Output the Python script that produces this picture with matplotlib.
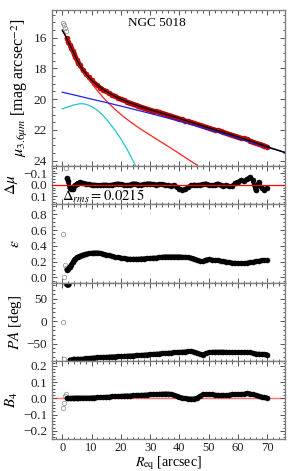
import matplotlib
matplotlib.use("Agg")
import matplotlib.pyplot as plt
from matplotlib.ticker import MultipleLocator

plt.rcParams['font.family'] = ['Liberation Serif', 'DejaVu Serif']
plt.rcParams['mathtext.fontset'] = 'stix'

# ---------------- data ----------------
r_obs = [1.5, 2, 2.5, 3, 3.5, 4, 4.5, 5, 5.5, 6, 7, 8, 9, 10, 11, 12, 13, 14, 15, 16, 17, 18, 19, 20,
         21, 22, 23, 24, 25, 26, 27, 28, 29, 30, 31, 32, 33, 34, 35, 36, 37, 38, 39, 40, 41, 42, 43, 44,
         45, 46, 47, 48, 49, 50, 51, 52, 53, 54, 55, 56, 57, 58, 59, 60, 61, 62, 63, 64, 65, 66, 67, 68, 69, 70]

mu_obs = [16.05, 16.25, 16.45, 16.65, 16.85, 17.05, 17.25, 17.45, 17.62, 17.8, 18.1, 18.35, 18.58, 18.78,
          18.95, 19.1, 19.25, 19.38, 19.5, 19.61, 19.72, 19.82, 19.91, 20.0, 20.08, 20.16, 20.24, 20.31,
          20.38, 20.44, 20.51, 20.57, 20.63, 20.69, 20.75, 20.8, 20.86, 20.92, 20.97, 21.03, 21.08, 21.14,
          21.2, 21.26, 21.32, 21.39, 21.45, 21.51, 21.57, 21.63, 21.69, 21.75, 21.81, 21.87, 21.93, 21.98,
          22.04, 22.1, 22.16, 22.22, 22.28, 22.34, 22.4, 22.46, 22.52, 22.56, 22.62, 22.7, 22.77, 22.85,
          22.9, 22.96, 23.03, 23.1]

d_mu = [-0.055, -0.035, 0.03, 0.04, 0.035, 0.015, 0.0, -0.01, -0.015, -0.02, -0.015, -0.01, -0.005, 0.0,
        0.0, 0.005, 0.005, 0.0, 0.0, 0.005, 0.0, -0.005, -0.01, -0.005, 0.0, 0.005, 0.0, -0.01, -0.01, 0.0,
        0.0, -0.005, -0.01, -0.01, -0.005, 0.0, -0.005, -0.005, 0.0, 0.005, 0.01, 0.005, 0.02, 0.035, 0.045,
        0.04, 0.02, 0.005, 0.0, 0.005, 0.0, -0.005, -0.01, 0.0, 0.005, 0.0, -0.01, 0.0, 0.01, 0.005, 0.015,
        0.01, -0.015, -0.025, -0.04, -0.03, -0.05, -0.065, -0.04, 0.05, -0.02, 0.03, 0.045, 0.03]

ellip = [0.097, 0.11, 0.135, 0.16, 0.19, 0.22, 0.24, 0.255, 0.265, 0.275, 0.29, 0.3, 0.305, 0.31, 0.315,
         0.315, 0.31, 0.3, 0.29, 0.28, 0.27, 0.26, 0.255, 0.25, 0.245, 0.24, 0.235, 0.235, 0.235, 0.235,
         0.24, 0.24, 0.245, 0.245, 0.25, 0.25, 0.255, 0.26, 0.265, 0.265, 0.265, 0.265, 0.265, 0.265, 0.26,
         0.26, 0.255, 0.25, 0.24, 0.225, 0.21, 0.205, 0.225, 0.23, 0.225, 0.22, 0.215, 0.21, 0.205, 0.2,
         0.19, 0.185, 0.185, 0.18, 0.18, 0.18, 0.185, 0.19, 0.195, 0.205, 0.21, 0.215, 0.215, 0.215]

pa = [82, 82, -86, -86, -85.5, -85.5, -85, -85, -84.5, -84.5, -84, -83, -82.5, -82, -81.5, -81, -80.5,
      -80, -80, -79.5, -79, -79, -78.5, -78, -78, -77.5, -77, -77, -76.5, -76, -75.5, -75, -74.5, -74,
      -73.5, -73, -72.5, -72, -71.5, -71, -70.5, -70, -69.5, -69, -68.5, -68, -67.5, -67.5, -68.5, -70.5,
      -73, -74.5, -72, -70, -69, -68.5, -68.5, -68.5, -68.5, -69, -69.5, -70, -70, -70, -69.5, -69, -69,
      -70, -71.5, -72.5, -73, -73.5, -74, -74.5]

b4 = [0.0, 0.0, 0.0, 0.002, 0.003, 0.003, 0.003, 0.004, 0.004, 0.004, 0.004, 0.004, 0.004, 0.005, 0.005,
      0.006, 0.007, 0.008, 0.009, 0.01, 0.012, 0.013, 0.014, 0.015, 0.016, 0.017, 0.017, 0.018, 0.019,
      0.02, 0.021, 0.022, 0.023, 0.024, 0.025, 0.026, 0.027, 0.028, 0.029, 0.029, 0.027, 0.022, 0.015,
      0.008, 0.004, 0.001, -0.001, -0.002, -0.001, 0.004, 0.015, 0.024, 0.026, 0.025, 0.024, 0.022, 0.021,
      0.02, 0.02, 0.02, 0.022, 0.024, 0.025, 0.025, 0.026, 0.028, 0.031, 0.03, 0.025, 0.02, 0.015, 0.01,
      0.006, 0.004]

# excluded inner points (open symbols)
r_exc = [0.2, 0.45, 0.8, 1.2]
mu_exc = [15.02, 15.18, 15.35, 15.54]
dmu_exc = [-0.40, -0.30, -0.20, -0.143]
ellip_exc = [0.55, 0.0, 0.16, 0.12]
pa_exc = [-1.5, -84, 85, 84]
b4_exc = [-0.057, -0.027, 0.012, 0.025]

# model components
r_tot = [0, 1, 2, 3, 4, 5, 6, 7, 8, 9, 10, 12, 14, 16, 18, 20, 22, 24, 26, 28, 30, 33, 36, 40, 45, 50,
         55, 60, 65, 70, 76]
mu_tot = [15.52, 15.85, 16.25, 16.65, 17.05, 17.45, 17.8, 18.1, 18.35, 18.58, 18.78, 19.1, 19.38, 19.61,
          19.82, 20.0, 20.16, 20.31, 20.44, 20.57, 20.69, 20.86, 21.03, 21.26, 21.57, 21.87, 22.16, 22.46,
          22.77, 23.1, 23.47]

r_bul = [0, 1, 2, 3, 4, 5, 6, 7, 8, 10, 12, 14, 16, 18, 20, 22, 24, 26, 28, 30, 32, 34, 36, 38, 40, 42,
         44, 46]
mu_bul = [15.5, 15.8, 16.3, 16.75, 17.15, 17.5, 17.85, 18.15, 18.45, 18.95, 19.45, 19.9, 20.3, 20.66,
          21.0, 21.3, 21.58, 21.85, 22.1, 22.34, 22.58, 22.82, 23.06, 23.3, 23.55, 23.8, 24.05, 24.3]

r_disk = [0, 5, 10, 15, 20, 25, 30, 35, 40, 45, 50, 55, 60, 65, 70, 76]
mu_disk = [19.55, 19.77, 20.0, 20.22, 20.45, 20.69, 20.93, 21.18, 21.44, 21.71, 21.98, 22.26, 22.55,
           22.84, 23.13, 23.47]

r_ring = [0, 2, 4, 6, 7, 8, 10, 12, 14, 16, 18, 20, 22, 24, 25, 26]
mu_ring = [20.63, 20.5, 20.37, 20.3, 20.3, 20.33, 20.48, 20.72, 21.08, 21.52, 22.02, 22.58, 23.22, 23.95,
           24.35, 24.75]

galaxy = "NGC 5018"
rms_text = r"$\Delta_{rms} = 0.0215$"

# ---------------- figure ----------------
W, H = 293, 471
fig = plt.figure(figsize=(W / 100, H / 100), dpi=100)

left, right = 52 / W, 285 / W
edges = [10, 166, 204, 283, 361, 439]  # pixel rows from top
axes = []
for i in range(5):
    top, bot = edges[i], edges[i + 1]
    ax = fig.add_axes([left, 1 - bot / H, right - left, (bot - top) / H])
    axes.append(ax)
ax_mu, ax_res, ax_e, ax_pa, ax_b4 = axes

spine_col = '#808080'
for ax in axes:
    ax.set_xlim(-3.5, 76)
    for s in ax.spines.values():
        s.set_color(spine_col)
        s.set_linewidth(1.0)
    ax.tick_params(which='both', direction='in', top=True, right=True, colors='#555555',
                   labelcolor='#222222', labelsize=9.5, width=0.7)
    ax.tick_params(which='major', length=3.5)
    ax.tick_params(which='minor', length=1.8)
    ax.xaxis.set_major_locator(MultipleLocator(10))
    ax.xaxis.set_minor_locator(MultipleLocator(2))
    if ax is not ax_b4:
        ax.tick_params(labelbottom=False)

ms = 3.6
band_lw = 3.0
open_kw = dict(ls='none', marker='o', ms=3.2, mfc='none', mec='#999999', mew=0.6)


def band(ax, x, y, face, edge, z=2):
    ax.plot(x, y, ls='-', lw=band_lw, color=face, solid_capstyle='round', zorder=z)
    ax.plot(x, y, ls='none', marker='o', ms=ms, mfc=face, mec=edge, mew=0.4, zorder=z)


# main profile
ax_mu.plot(r_exc, mu_exc, **open_kw)
band(ax_mu, r_obs, mu_obs, '#e00000', '#900000')
ax_mu.plot(r_bul, mu_bul, color='#ff2020', lw=0.9, zorder=3)
ax_mu.plot(r_ring, mu_ring, color='#20c8c8', lw=0.9, zorder=3)
ax_mu.plot(r_disk, mu_disk, color='#2020e0', lw=0.9, zorder=3)
ax_mu.plot(r_tot, mu_tot, color='black', lw=1.0, zorder=4)
ax_mu.set_ylim(24.35, 14.2)
ax_mu.yaxis.set_major_locator(MultipleLocator(2))
ax_mu.yaxis.set_minor_locator(MultipleLocator(0.5))
ax_mu.set_ylabel(r"$\mu_{3.6\mu m}$ [mag arcsec$^{-2}$]", fontsize=11.5, labelpad=3)
ax_mu.text(0.45, 0.915, galaxy, transform=ax_mu.transAxes, ha='center', va='center', fontsize=9.5)

# residuals
ax_res.axhline(0, color='#ff0000', lw=0.9, zorder=3)
ax_res.plot(r_exc, dmu_exc, **open_kw)
band(ax_res, r_obs, d_mu, 'black', 'black')
ax_res.set_ylim(0.17, -0.165)
ax_res.yaxis.set_major_locator(MultipleLocator(0.1))
ax_res.yaxis.set_minor_locator(MultipleLocator(0.025))
ax_res.set_ylabel(r"$\Delta\mu$", fontsize=11, labelpad=2)
ax_res.text(0.045, 0.2, rms_text, transform=ax_res.transAxes, ha='left', va='center', fontsize=10.5,
            zorder=5)

# ellipticity
ax_e.plot(r_exc, ellip_exc, **open_kw)
band(ax_e, r_obs, ellip, 'black', 'black')
ax_e.set_ylim(-0.07, 0.93)
ax_e.yaxis.set_major_locator(MultipleLocator(0.2))
ax_e.yaxis.set_minor_locator(MultipleLocator(0.05))
ax_e.set_ylabel(r"$\epsilon$", fontsize=11, labelpad=6)

# position angle
ax_pa.plot(r_exc, pa_exc, **open_kw)
band(ax_pa, r_obs[2:], pa[2:], 'black', 'black')
ax_pa.plot(r_obs[:2], pa[:2], ls='-', lw=band_lw, color='black', marker='o', ms=ms)
ax_pa.set_ylim(-89, 85)
ax_pa.yaxis.set_major_locator(MultipleLocator(50))
ax_pa.yaxis.set_minor_locator(MultipleLocator(10))
ax_pa.set_ylabel(r"$PA$ [deg]", fontsize=11, labelpad=2)

# B4
ax_b4.axhline(0, color='#ff5050', lw=1.0, alpha=0.8, zorder=1)
ax_b4.plot(r_exc, b4_exc, **open_kw)
band(ax_b4, r_obs, b4, 'black', 'black')
ax_b4.set_ylim(-0.25, 0.23)
ax_b4.yaxis.set_major_locator(MultipleLocator(0.1))
ax_b4.yaxis.set_minor_locator(MultipleLocator(0.02))
ax_b4.set_ylabel(r"$B_4$", fontsize=11, labelpad=2)
ax_b4.set_xlabel(r"$R_{\rm eq}$ [arcsec]", fontsize=10, labelpad=0)
ax_b4.tick_params(axis='x', labelsize=9, pad=2.5)

fig.savefig("out.png", dpi=100)
